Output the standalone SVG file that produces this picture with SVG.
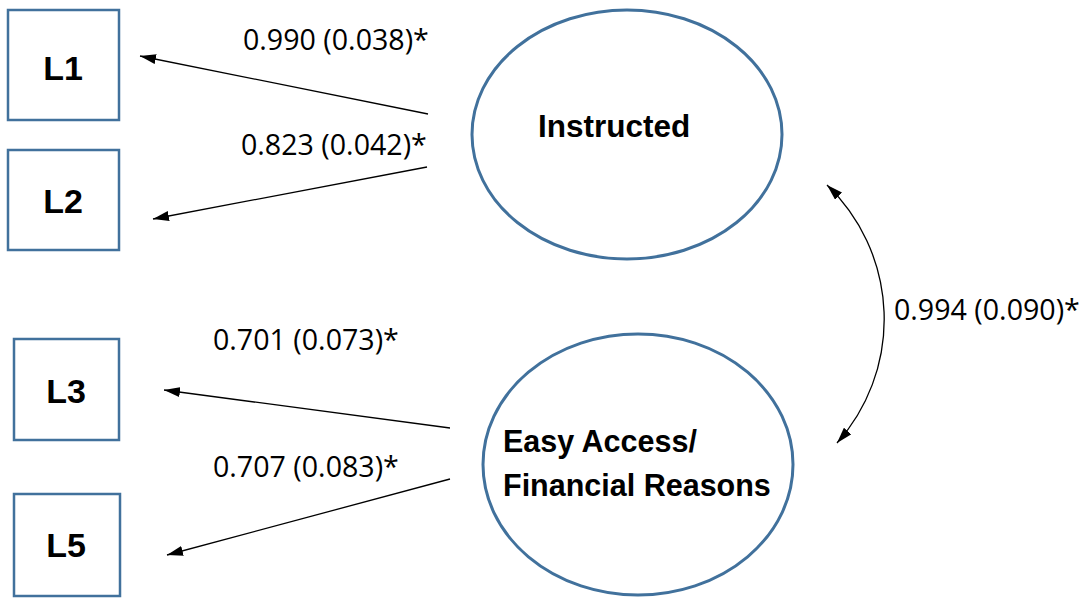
<svg xmlns="http://www.w3.org/2000/svg" width="1084" height="598" viewBox="0 0 1084 598">
  <style>
    .box { fill: #ffffff; stroke: #41719c; stroke-width: 2.5; }
    .latent { fill: #ffffff; stroke: #41719c; stroke-width: 3; }
    .name { font-family: "Liberation Sans", Arial, sans-serif; font-weight: bold; fill: #000000; }
    .coef { font-family: "Open Sans", "Noto Sans", sans-serif; font-size: 28.6px; fill: #000000; }
    .edge { fill: none; stroke: #000000; stroke-width: 1.3; }
  </style>
  <defs>
    <marker id="head" viewBox="0 0 16 10" refX="16" refY="5" markerWidth="16" markerHeight="10" markerUnits="userSpaceOnUse" orient="auto-start-reverse">
      <path d="M0,0 L16,5 L0,10 Z" fill="#000000"/>
    </marker>
  </defs>

  <!-- observed indicators -->
  <g id="L1">
    <rect class="box" x="8" y="10" width="111" height="110"/>
    <text class="name" x="63" y="80" font-size="34" text-anchor="middle">L1</text>
  </g>
  <g id="L2">
    <rect class="box" x="8" y="150" width="111" height="100"/>
    <text class="name" x="63" y="213" font-size="34" text-anchor="middle">L2</text>
  </g>
  <g id="L3">
    <rect class="box" x="14" y="339" width="105" height="101"/>
    <text class="name" x="66" y="403" font-size="34" text-anchor="middle">L3</text>
  </g>
  <g id="L5">
    <rect class="box" x="14" y="494" width="106" height="102"/>
    <text class="name" x="66" y="557" font-size="34" text-anchor="middle">L5</text>
  </g>

  <!-- latent factors -->
  <g id="instructed">
    <ellipse class="latent" cx="627" cy="134.5" rx="155" ry="124.5"/>
    <text class="name" x="538" y="137" font-size="31.5">Instructed</text>
  </g>
  <g id="easy-access">
    <ellipse class="latent" cx="638" cy="464.5" rx="155" ry="130.5"/>
    <text class="name" x="503" y="452" font-size="30.5">Easy Access/</text>
    <text class="name" x="503" y="496" font-size="30.5">Financial Reasons</text>
  </g>

  <!-- loadings and factor covariance -->
  <g id="connectors">
    <line class="edge" x1="428" y1="114" x2="140" y2="56" marker-end="url(#head)"/>
    <line class="edge" x1="427" y1="167" x2="153" y2="219" marker-end="url(#head)"/>
    <line class="edge" x1="450" y1="428" x2="164" y2="390" marker-end="url(#head)"/>
    <line class="edge" x1="450" y1="479" x2="167" y2="555" marker-end="url(#head)"/>
    <path class="edge" d="M827,185 A186,186 0 0 1 837,443" marker-start="url(#head)" marker-end="url(#head)"/>
  </g>

  <g id="labels">
    <text class="coef" x="243" y="50">0.990 (0.038)*</text>
    <text class="coef" x="241" y="155">0.823 (0.042)*</text>
    <text class="coef" x="213" y="350">0.701 (0.073)*</text>
    <text class="coef" x="213" y="477">0.707 (0.083)*</text>
    <text class="coef" x="894" y="320">0.994 (0.090)*</text>
  </g>
</svg>
